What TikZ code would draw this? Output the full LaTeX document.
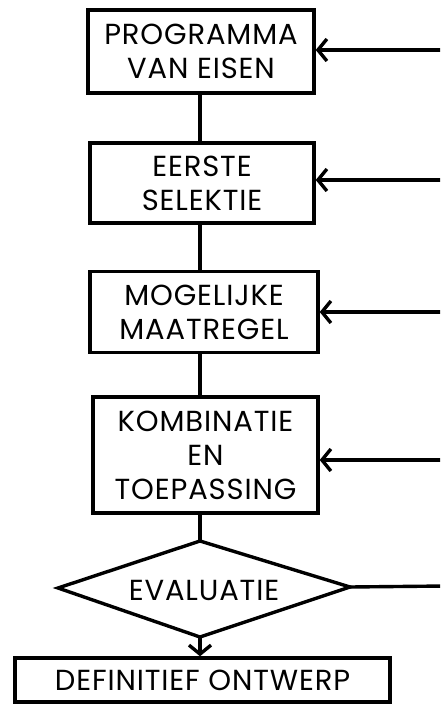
\documentclass[tikz,border=0pt]{standalone}
\usepackage{fontspec}
\setmainfont{Poppins}[LetterSpace=3]
\usetikzlibrary{arrows.meta}
\begin{document}
\begin{tikzpicture}[x=1pt,y=-1pt,
  every node/.style={font=\fontsize{29}{34}\selectfont},
  stepbox/.style={draw,line width=3.4pt,rectangle,inner sep=0pt,align=center},
  link/.style={line width=3.4pt},
  feed/.style={line width=3.4pt,-{Straight Barb[length=9pt,width=22pt]}}]
  \useasboundingbox (0,0) rectangle (440,708);
  \begin{scope}
  \clip (0,0) rectangle (440,708);
  % process steps
  \node[stepbox,minimum width=226pt,minimum height=83pt] (pve) at (201,51.5) {PROGRAMMA\\VAN EISEN};
  \node[stepbox,minimum width=224pt,minimum height=80pt] (sel) at (202,183) {EERSTE\\SELEKTIE};
  \node[stepbox,minimum width=228pt,minimum height=81pt] (maat) at (204,312) {MOGELIJKE\\MAATREGEL};
  \node[stepbox,minimum width=225pt,minimum height=116pt] (komb) at (205.5,455) {KOMBINATIE\\EN\\TOEPASSING};
  % decision diamond
  \coordinate (eT) at (200,541);
  \coordinate (eL) at (58,588);
  \coordinate (eR) at (350,587);
  \coordinate (eB) at (200,637);
  \draw[line width=3.4pt,line join=miter] (eT) -- (eR) -- (eB) -- (eL) -- cycle;
  \node (eval) at (204,590) {EVALUATIE};
  \node[stepbox,minimum width=375pt,minimum height=44pt] (def) at (202.5,680) {DEFINITIEF ONTWERP};
  % vertical links along the main axis
  \draw[link] (eT |- pve.south) -- (eT |- sel.north);
  \draw[link] (eT |- sel.south) -- (eT |- maat.north);
  \draw[link] (eT |- maat.south) -- (eT |- komb.north);
  \draw[link] (eT |- komb.south) -- (eT);
  \draw[feed] (eB) -- (eB |- def.north);
  % feedback lines from the right
  \coordinate (r1) at (445,50);
  \coordinate (r2) at (445,180);
  \coordinate (r3) at (445,312);
  \coordinate (r4) at (445,460);
  \coordinate (r5) at (445,586);
  \draw[feed] (r1) -- (r1 -| pve.east);
  \draw[feed] (r2) -- (r2 -| sel.east);
  \draw[feed] (r3) -- (r3 -| maat.east);
  \draw[feed] (r4) -- (r4 -| komb.east);
  \draw[link] (eR) -- (r5);
  \end{scope}
\end{tikzpicture}
\end{document}
